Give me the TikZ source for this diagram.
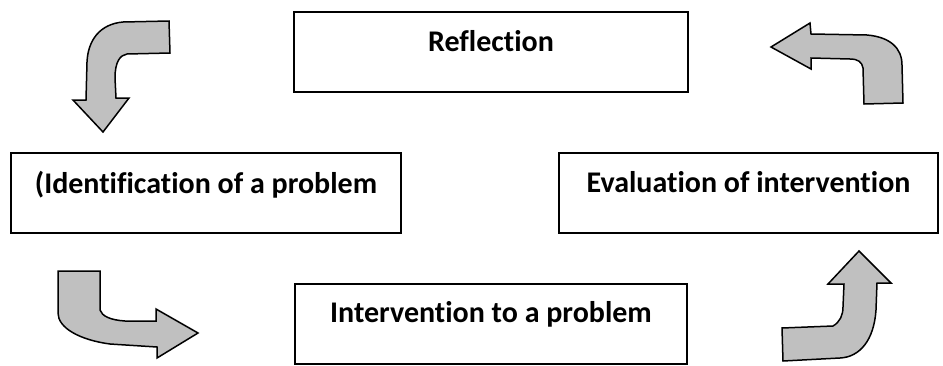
\documentclass[tikz,border=0pt]{standalone}
\usepackage{fontspec}
\setmainfont{Carlito}[Ligatures={NoCommon,NoContextual}]
\begin{document}
\begin{tikzpicture}[x=1pt,y=-1pt,
  stagebox/.style={draw=black,line width=2pt,fill=white,minimum height=80pt,inner sep=0pt},
  stagetext/.style={font=\fontsize{30}{36}\selectfont\bfseries,anchor=base,inner sep=0pt},
  bentarrow/.style={draw=black,line width=1.5pt,fill=arrowgray,line join=miter}]
\definecolor{arrowgray}{HTML}{C0C0C0}
\useasboundingbox (0,0) rectangle (943,365);

% stage boxes
\node[stagebox,minimum width=394pt] (refl) at (491,52) {};
\node[stagebox,minimum width=390pt] (ident) at (206,193) {};
\node[stagebox,minimum width=379pt] (eval) at (748.5,193) {};
\node[stagebox,minimum width=392pt] (interv) at (491,324) {};

% stage labels, set near the top of each box
\node[stagetext] (refl-t) at ([yshift=-40pt]refl.north) {Reflection};
\node[stagetext] (ident-t) at ([yshift=-41pt]ident.north) {(Identification of a problem};
\node[stagetext] (eval-t) at ([yshift=-40pt]eval.north) {Evaluation of intervention};
\node[stagetext] (interv-t) at ([yshift=-39pt]interv.north) {Intervention to a problem};

% bent block arrows around the cycle
\draw[bentarrow] (169,21) -- (123,22) .. controls (100,24) and (88,40) .. (87,62)
  -- (86,100) -- (73,100) -- (103,132) -- (129,98) -- (116,98) -- (115,78)
  .. controls (115,62) and (120,55) .. (127,54) -- (170,53) -- cycle;

\draw[bentarrow] (771,47) -- (810,23) -- (811,34) -- (867,35)
  .. controls (890,37) and (902,48) .. (902,65) -- (903,103) -- (864,104) -- (863,68)
  .. controls (862,62) and (858,59) .. (850,59) -- (811,58) -- (811,69) -- cycle;

\draw[bentarrow] (58,271) -- (100,271) -- (100,310)
  .. controls (102,316) and (110,320) .. (125,321) -- (156,321) -- (156,309)
  -- (198,333) -- (157,358) -- (157,347) -- (110,344)
  .. controls (80,340) and (58,328) .. (58,313) -- cycle;

\draw[bentarrow] (859,251) -- (891,283) -- (877,283) -- (876,310)
  .. controls (874,340) and (860,357) .. (840,358) -- (783,361) -- (782,328) -- (833,326)
  .. controls (840,322) and (843,315) .. (843,307) -- (844,284) -- (828,284) -- cycle;
\end{tikzpicture}
\end{document}
